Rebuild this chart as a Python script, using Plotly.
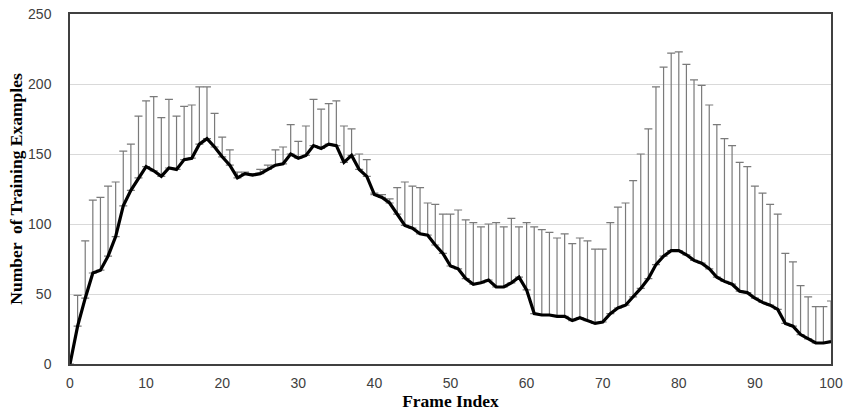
import plotly.graph_objects as go

# Frame index 0..100
frame_index = list(range(101))

# Mean number of training examples per frame
mean_examples = [
    0, 27, 47, 65, 67, 77, 91, 113, 124, 133,
    141, 138, 134, 140, 139, 146, 147, 157, 161, 155,
    148, 142, 133, 136, 135, 136, 139, 142, 143, 150,
    147, 149, 156, 154, 157, 156, 144, 149, 139, 134,
    121, 119, 115, 107, 99, 97, 93, 92, 85, 79,
    70, 68, 61, 57, 58, 60, 55, 55, 58, 62,
    53, 36, 35, 35, 34, 34, 31, 33, 31, 29,
    30, 36, 40, 42, 48, 54, 61, 71, 77, 81,
    81, 78, 74, 72, 68, 62, 59, 57, 52, 51,
    47, 44, 42, 39, 29, 27, 21, 18, 15, 15,
    16,
]

# Upper end of the spread for each frame
upper_examples = [
    0, 49, 88, 117, 119, 127, 130, 152, 157, 177,
    188, 191, 176, 189, 177, 184, 185, 198, 198, 179,
    162, 153, 137, 137, 136, 139, 142, 153, 155, 171,
    159, 170, 189, 182, 186, 188, 170, 168, 150, 146,
    122, 121, 118, 126, 130, 127, 126, 115, 114, 107,
    107, 110, 103, 101, 98, 100, 101, 98, 104, 98,
    101, 98, 96, 94, 90, 93, 86, 90, 88, 82,
    82, 101, 112, 115, 131, 150, 168, 198, 212, 222,
    223, 214, 203, 199, 185, 171, 161, 156, 144, 141,
    127, 122, 114, 107, 79, 73, 56, 48, 41, 41,
    45,
]

err_plus = [u - m for u, m in zip(upper_examples, mean_examples)]

fig = go.Figure()
fig.add_trace(go.Scatter(
    x=frame_index,
    y=mean_examples,
    mode="lines",
    line=dict(color="black", width=3.2),
    error_y=dict(
        type="data",
        symmetric=False,
        array=err_plus,
        arrayminus=[0] * len(err_plus),
        color="#7a7a7a",
        thickness=1.2,
        width=4,
    ),
    showlegend=False,
    hoverinfo="skip",
))

tick_font = dict(family="Liberation Sans Narrow, Arial Narrow, Liberation Sans, sans-serif",
                 size=14, color="#404040")
title_font = dict(family="Liberation Serif, Times New Roman, serif", size=17.5, color="black")

fig.update_layout(
    width=844,
    height=411,
    margin=dict(l=70, r=13, t=14, b=47),
    paper_bgcolor="white",
    plot_bgcolor="white",
    xaxis=dict(
        range=[0, 100],
        automargin=False,
        tickmode="array",
        tickvals=list(range(0, 101, 10)),
        showgrid=False,
        zeroline=False,
        showline=True,
        linecolor="#404040",
        linewidth=1.5,
        mirror=True,
        ticks="",
        tickfont=tick_font,
        ticklabelstandoff=5,
        title=dict(text="<b>Frame Index</b>", font=title_font, standoff=4),
    ),
    yaxis=dict(
        range=[0, 250],
        automargin=False,
        tickmode="array",
        tickvals=list(range(0, 251, 50)),
        showgrid=True,
        gridcolor="#d9d9d9",
        gridwidth=1,
        zeroline=False,
        showline=True,
        linecolor="#404040",
        linewidth=1.5,
        mirror=True,
        ticks="",
        tickfont=tick_font,
        ticklabelstandoff=14,
        title=dict(text="<b>Number  of Training Examples</b>", font=title_font, standoff=1),
    ),
)

fig.write_html("out.html")
